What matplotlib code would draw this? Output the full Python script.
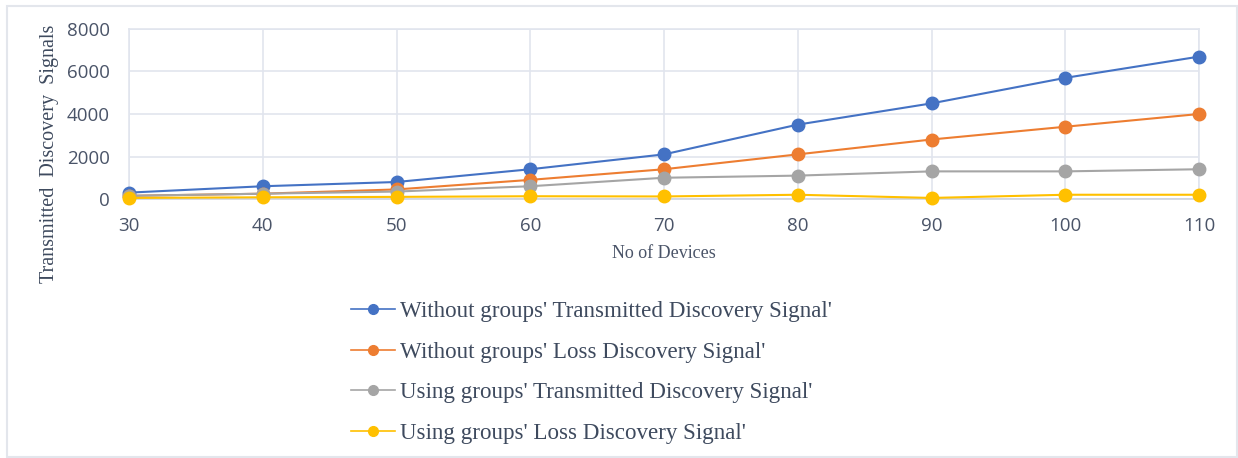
import matplotlib.pyplot as plt
from matplotlib.patches import Rectangle

# Data
devices = [30, 40, 50, 60, 70, 80, 90, 100, 110]
without_tx = [300, 600, 800, 1400, 2100, 3500, 4500, 5700, 6700]
without_loss = [150, 250, 450, 900, 1400, 2100, 2800, 3400, 4000]
using_tx = [150, 250, 350, 600, 1000, 1100, 1300, 1300, 1400]
using_loss = [50, 80, 100, 130, 120, 200, 50, 200, 200]

labels = [
    "Without groups' Transmitted Discovery Signal'",
    "Without groups' Loss Discovery Signal'",
    "Using groups' Transmitted Discovery Signal'",
    "Using groups' Loss Discovery Signal'",
]
colors = ["#4472C4", "#ED7D31", "#A5A5A5", "#FFC000"]
series = [without_tx, without_loss, using_tx, using_loss]

W, H = 1238, 458
fig = plt.figure(figsize=(W / 100, H / 100), dpi=100)
ax = fig.add_axes([129 / W, 1 - 199 / H, (1199 - 129) / W, (199 - 29) / H])

# light outer frame like the source figure
fig.patches.append(Rectangle((7 / W, 1 / H), (W - 8) / W, (H - 7) / H,
                             transform=fig.transFigure, fill=False,
                             edgecolor="#e3e6ec", linewidth=1.5))

lines = []
for vals, c, lab in zip(series, colors, labels):
    ln, = ax.plot(devices, vals, color=c, linewidth=1.5, marker="o",
                  markersize=9, label=lab, zorder=3, clip_on=False)
    lines.append(ln)

ax.set_xlim(30, 110)
ax.set_ylim(0, 8000)
ax.set_xticks(devices)
ax.set_yticks([0, 2000, 4000, 6000, 8000])
ax.grid(True, color="#e1e5ee", linewidth=1.2)
ax.set_axisbelow(True)
for s in ax.spines.values():
    s.set_color("#e1e5ee")
    s.set_linewidth(1.2)
ax.spines["bottom"].set_color("#cdd3de")
ax.tick_params(length=0, labelsize=13.5, labelcolor="#4a5468")
ax.tick_params(axis="x", pad=13)
ax.tick_params(axis="y", pad=14)
for t in ax.get_xticklabels() + ax.get_yticklabels():
    t.set_family("Open Sans")

serif = "Liberation Serif"
fig.text(664 / W, 1 - 253 / H, "No of Devices", ha="center", va="center",
         family=serif, fontsize=13, color="#4a5468")
fig.text(50 / W, 1 - 154 / H, "Transmitted  Discovery  Signals", ha="center",
         va="center", rotation=90, family=serif, fontsize=14.5, color="#3e4a5e")

leg = fig.legend(handles=lines, loc="upper left",
                 bbox_to_anchor=(330 / W, 1 - 280 / H), frameon=False,
                 prop={"family": serif, "size": 16.6}, handlelength=1.9,
                 handletextpad=0.25, labelspacing=0.85, labelcolor="#3e4a5e")
for h in leg.legend_handles:
    h.set_markersize(7)
    h.set_linewidth(1.2)

fig.savefig("out.png", dpi=100)
